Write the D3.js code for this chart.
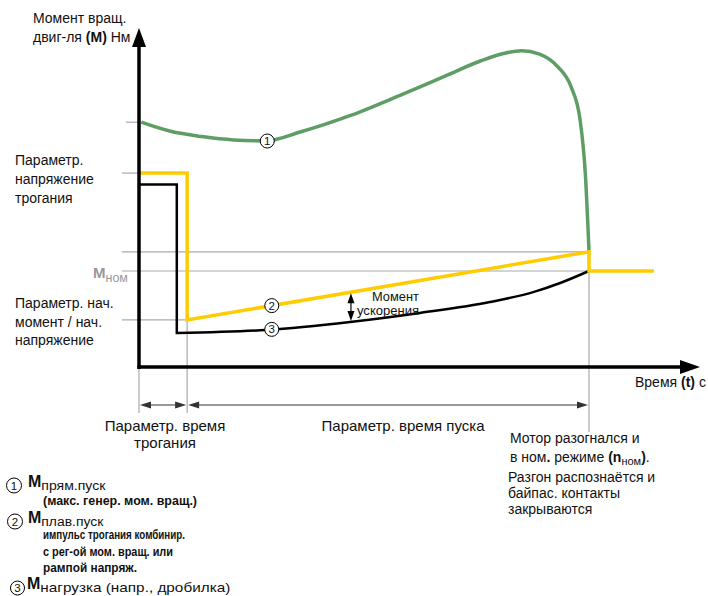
<!DOCTYPE html>
<html><head><meta charset="utf-8">
<script src="https://cdn.jsdelivr.net/npm/d3@7"></script>
<style>
body{margin:0;background:#fff;}
text{font-family:"Liberation Sans",Arial,sans-serif;fill:#111;}
</style></head>
<body><svg id="c" width="708" height="596"></svg>
<script>
// ---- data (t: % of start time, M: % of nominal torque) ----
const greenT = [0.5, 7, 14, 21, 28, 36, 47, 58, 68, 76, 81, 85, 89, 93, 96, 98, 99.2, 100];
const greenM = [255, 245.5, 240, 236.5, 235.5, 245, 262, 283, 303, 319, 326.5, 329.5, 326, 313, 292, 258, 200, 121];
const yellowT = [0, 10.7, 10.7, 100, 100, 114.4];
const yellowM = [202, 202, 49, 120, 100, 100];
const blackT = [0, 8.4, 8.4, 28.2, 46.9, 62.4, 78, 87.6, 93.6, 100];
const blackM = [190, 190, 35.4, 38.5, 46.9, 56.3, 67.7, 78, 87.5, 100];
const refLevels = [255, 202, 120, 100, 49];
const tStartPulse = 10.7, tNominal = 100;

const svg = d3.select("#c");
const x = d3.scaleLinear().domain([0, 100]).range([139, 589]);
const y = d3.scaleLinear().domain([0, 100]).range([367, 271]);

const gray = "#aaa";
// reference lines
const refEnds = {255:[126, 139], 202:[122, 139], 120:[122, x(100)], 100:[122, x(100)], 49:[122, x(tStartPulse)]};
refLevels.forEach(m => {
  svg.append("line").attr("x1", refEnds[m][0]).attr("x2", refEnds[m][1])
    .attr("y1", y(m)).attr("y2", y(m)).attr("stroke", gray).attr("stroke-width", 1.2);
});
// vertical guide lines
[[0, y(0), 413], [tStartPulse, y(49), 413], [tNominal, y(100), 432]].forEach(d => {
  svg.append("line").attr("x1", x(d[0])).attr("x2", x(d[0])).attr("y1", d[1]).attr("y2", d[2])
    .attr("stroke", gray).attr("stroke-width", 1.2);
});

// curves
const lineSmooth = d3.line().x(d => x(d[0])).y(d => y(d[1])).curve(d3.curveMonotoneX);
const lineLin = d3.line().x(d => x(d[0])).y(d => y(d[1]));
svg.append("path").attr("d", lineSmooth(greenT.map((t, i) => [t, greenM[i]])))
  .attr("fill", "none").attr("stroke", "#5e9e64").attr("stroke-width", 3.5);
// black: step then smooth
const bPts = blackT.map((t, i) => [t, blackM[i]]);
svg.append("path").attr("d", lineLin(bPts.slice(0, 3)) + lineSmooth(bPts.slice(2)).replace(/^M/, "L"))
  .attr("fill", "none").attr("stroke", "#000").attr("stroke-width", 2.5).attr("stroke-linejoin", "miter");
svg.append("path").attr("d", lineLin(yellowT.map((t, i) => [t, yellowM[i]])))
  .attr("fill", "none").attr("stroke", "#ffcc00").attr("stroke-width", 3.5).attr("stroke-linejoin", "miter");

// axes
svg.append("line").attr("x1", 139).attr("x2", 139).attr("y1", 369).attr("y2", 42).attr("stroke", "#000").attr("stroke-width", 3.5);
svg.append("path").attr("d", "M139,28 L132,47 L146,47 Z").attr("fill", "#000");
svg.append("line").attr("x1", 137.5).attr("x2", 684).attr("y1", 367).attr("y2", 367).attr("stroke", "#000").attr("stroke-width", 3.5);
svg.append("path").attr("d", "M700,367 L680,360 L680,374 Z").attr("fill", "#000");

// interval arrows
function hArrow(x1, x2, yy) {
  svg.append("line").attr("x1", x1 + 4).attr("x2", x2 - 4).attr("y1", yy).attr("y2", yy).attr("stroke", "#333").attr("stroke-width", 1.2);
  svg.append("path").attr("d", `M${x1},${yy} L${x1 + 11},${yy - 3.5} L${x1 + 11},${yy + 3.5} Z`).attr("fill", "#333");
  svg.append("path").attr("d", `M${x2},${yy} L${x2 - 11},${yy - 3.5} L${x2 - 11},${yy + 3.5} Z`).attr("fill", "#333");
}
hArrow(x(0) + 1, x(tStartPulse) - 1, 405);
hArrow(x(tStartPulse) + 1, x(tNominal) - 1, 405);

// acceleration moment arrow
const ta = 47.1;
const ya1 = y(49 + (120 - 49) * (ta - 10.7) / (100 - 10.7)) + 1, ya2 = y(46.9) - 1;
svg.append("line").attr("x1", x(ta)).attr("x2", x(ta)).attr("y1", ya1 + 4).attr("y2", ya2 - 4).attr("stroke", "#000").attr("stroke-width", 1.2);
svg.append("path").attr("d", `M${x(ta)},${ya1} L${x(ta) - 3.5},${ya1 + 10} L${x(ta) + 3.5},${ya1 + 10} Z`).attr("fill", "#000");
svg.append("path").attr("d", `M${x(ta)},${ya2} L${x(ta) - 3.5},${ya2 - 10} L${x(ta) + 3.5},${ya2 - 10} Z`).attr("fill", "#000");

// numbered markers
function marker(cx, cy, n, r = 7) {
  svg.append("circle").attr("cx", cx).attr("cy", cy).attr("r", r).attr("fill", "#fff").attr("stroke", "#000").attr("stroke-width", 1);
  svg.append("text").attr("x", cx).attr("y", cy + 4).attr("text-anchor", "middle").attr("font-size", 11.5).text(n);
}
marker(x(28.5), y(235.4), "1");
marker(x(29.5), y(49 + 71 * (29.5 - 10.7) / 89.3), "2");
marker(x(29.5), y(39.2), "3");

// texts
function txt(xx, yy, s, size, opt = {}) {
  const t = svg.append("text").attr("x", xx).attr("y", yy).attr("font-size", size);
  if (opt.anchor) t.attr("text-anchor", opt.anchor);
  if (opt.weight) t.attr("font-weight", opt.weight);
  if (opt.fill) t.style("fill", opt.fill);
  if (opt.len) t.attr("textLength", opt.len).attr("lengthAdjust", "spacingAndGlyphs");
  if (typeof s === "string") t.text(s);
  else s.forEach(p => {
    const ts = t.append("tspan").text(p.t);
    if (p.b) ts.attr("font-weight", "bold");
    if (p.size) ts.attr("font-size", p.size);
    if (p.dy) ts.attr("dy", p.dy);
    if (p.len) ts.attr("textLength", p.len).attr("lengthAdjust", "spacingAndGlyphs");
  });
  return t;
}
const F = 14;
txt(33, 23, "Момент вращ.", F);
txt(33, 42, [{t: "двиг-ля "}, {t: "(M)", b: 1}, {t: " Нм"}], F);
txt(15, 165, "Параметр.", F);
txt(15, 184, "напряжение", F);
txt(15, 203, "трогания", F);
txt(15, 308, "Параметр. нач.", F);
txt(15, 327, "момент / нач.", F);
txt(15, 345, "напряжение", F);
txt(93, 278, [{t: "M", b: 1, size: 15}, {t: "ном", size: 12.5, dy: 4}], 15, {fill: "#999"});
txt(635, 387, [{t: "Время "}, {t: "(t)", b: 1}, {t: " с"}], F);
txt(165, 431, "Параметр. время", 15, {anchor: "middle"});
txt(165, 448, "трогания", 15, {anchor: "middle"});
txt(403, 431, "Параметр. время пуска", 15, {anchor: "middle"});
txt(372, 301, "Момент", 12, {len: 47});
txt(357, 315, "ускорения", 12, {len: 62});
txt(510, 443, "Мотор разогнался и", F);
txt(510, 462, [{t: "в ном"}, {t: ".", b: 1}, {t: "  режиме  "}, {t: "(", b: 1}, {t: "n", b: 1}, {t: "ном", size: 11, dy: 3}, {t: ")", b: 1, dy: -3}, {t: "."}], F);
txt(508, 482, "Разгон распознаётся и", F);
txt(508, 498, "байпас. контакты", F);
txt(508, 514, "закрываются", F);

// legend
marker(14, 485.5, "1", 7.5);
txt(28, 487, [{t: "M", b: 1, size: 16}, {t: "прям.пуск", size: 12.5, dy: 3, len: 64}], 16);
txt(43, 505, "(макс. генер.  мом. вращ.)", 12, {weight: "bold", len: 154});
marker(15, 521.5, "2", 7.5);
txt(28, 523, [{t: "M", b: 1, size: 16}, {t: "плав.пуск", size: 12.5, dy: 3, len: 62}], 16);
txt(43, 539, "импульс трогания комбинир.", 12, {weight: "bold", len: 142});
txt(43, 556, "с рег-ой мом. вращ. или", 12, {weight: "bold", len: 130});
txt(43, 572, "рампой напряж.", 12, {weight: "bold", len: 94});
marker(17.5, 588, "3", 7);
txt(27, 589, [{t: "M", b: 1, size: 16}, {t: "нагрузка (напр., дробилка)", size: 13, dy: 3, len: 190}], 16);
</script></body></html>
